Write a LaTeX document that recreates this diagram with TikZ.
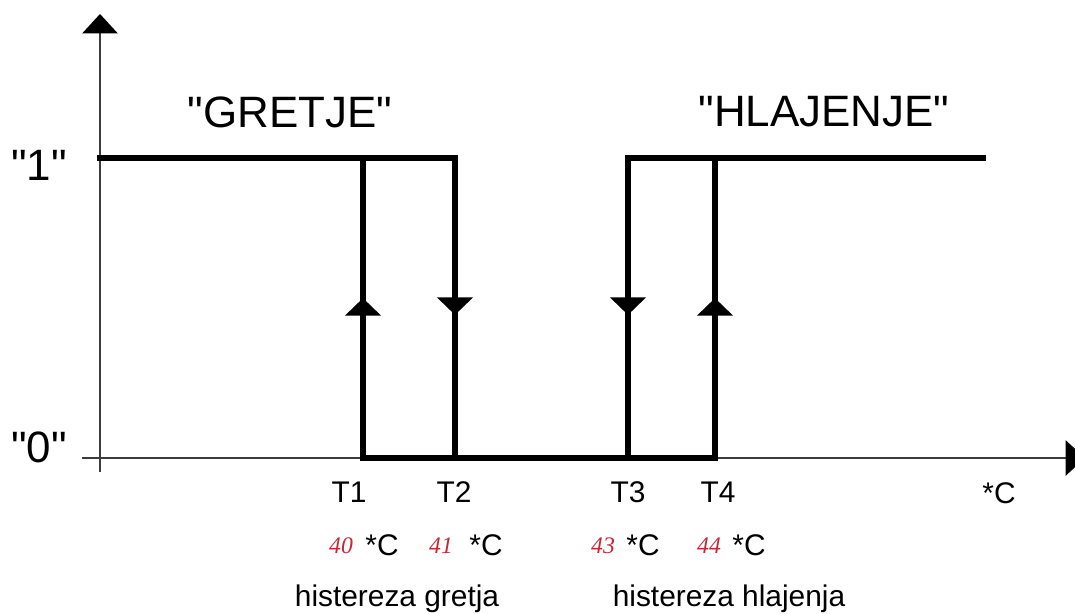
\documentclass[tikz,border=0pt]{standalone}
\usepackage{fontspec}
\setmainfont{Liberation Sans}[Ligatures=TeXOff]
\newfontfamily\handfont{Liberation Serif}
\usetikzlibrary{arrows.meta,decorations.markings}
\definecolor{numRed}{RGB}{196,40,52}
\definecolor{axisGray}{RGB}{60,60,60}
\begin{document}
\begin{tikzpicture}
[x=0.02cm,y=-0.02cm,%
  axisDecorate/.style={line width=1.1pt,draw=axisGray,-{Triangle[width=20pt,length=11pt,color=black]}},%
  lineDecorate/.style={line width=3.4pt,line cap=rect},%
  tipDecorate/.style={postaction={decorate},decoration={markings,
      mark=at position #1 with {\arrow{Triangle[width=20pt,length=10pt]}}}},%
  bigLabel/.style={font=\fontsize{25}{28}\selectfont,inner sep=0pt},%
  smallLabel/.style={font=\fontsize{17}{20}\selectfont,inner sep=0pt},%
  tempLabel/.style={font=\fontsize{13.5}{15}\selectfont\handfont\itshape,text=numRed,inner sep=0pt}]
\clip (0,0) rectangle (1075,613);
%% axes
\coordinate (yStart) at (100,472);
\coordinate (yEnd) at (100,14);
\coordinate (xStart) at (82,458);
\coordinate (xEnd) at (1085,458);
\draw[axisDecorate] (yStart) -- (yEnd);
\draw[axisDecorate] (xStart) -- (xEnd);
%% levels
\node (one) at (39,165) [bigLabel] {"1"};
\node (zero) at (39,447) [bigLabel] {"0"};
\node (heat) at (290,112) [bigLabel] {"GRETJE"};
\node (cool) at (824,112) [bigLabel] {"HLAJENJE"};
%% switching points
\foreach \pname/\x/\ylow/\yhigh/\where/\lx in {
  T1/363/458/158/0.533/349, T2/455/158/458/0.523/454,
  T3/628/158/458/0.523/628, T4/715/458/158/0.533/718}
{
  \coordinate (\pname a) at (\x,\ylow);
  \coordinate (\pname b) at (\x,\yhigh);
  \draw[lineDecorate,tipDecorate=\where] (\pname a) -- (\pname b);
  \node (lab\pname) at (\lx,492) [smallLabel] {\pname};
}
\coordinate (heatStart) at (100,158);
\coordinate (coolEnd) at (983,158);
\draw[lineDecorate] (heatStart) -- (T2a);
\draw[lineDecorate] (T1a) -- (T4a);
\draw[lineDecorate] (T3a) -- (coolEnd);
\node (unit) at (999,493) [smallLabel] {*C};
%% temperatures
\foreach \tname/\val/\nx/\cx in {
  t1/40/341/382, t2/41/441/486, t3/43/603/643, t4/44/709/749}
{
  \node (num\tname) at (\nx,546) [tempLabel] {\val};
  \node (deg\tname) at (\cx,545) [smallLabel] {*C};
}
%% hysteresis
\node (hystHeat) at (397,599) [smallLabel] {histereza gretja};
\node (hystCool) at (729,599) [smallLabel] {histereza hlajenja};
\end{tikzpicture}
\end{document}
